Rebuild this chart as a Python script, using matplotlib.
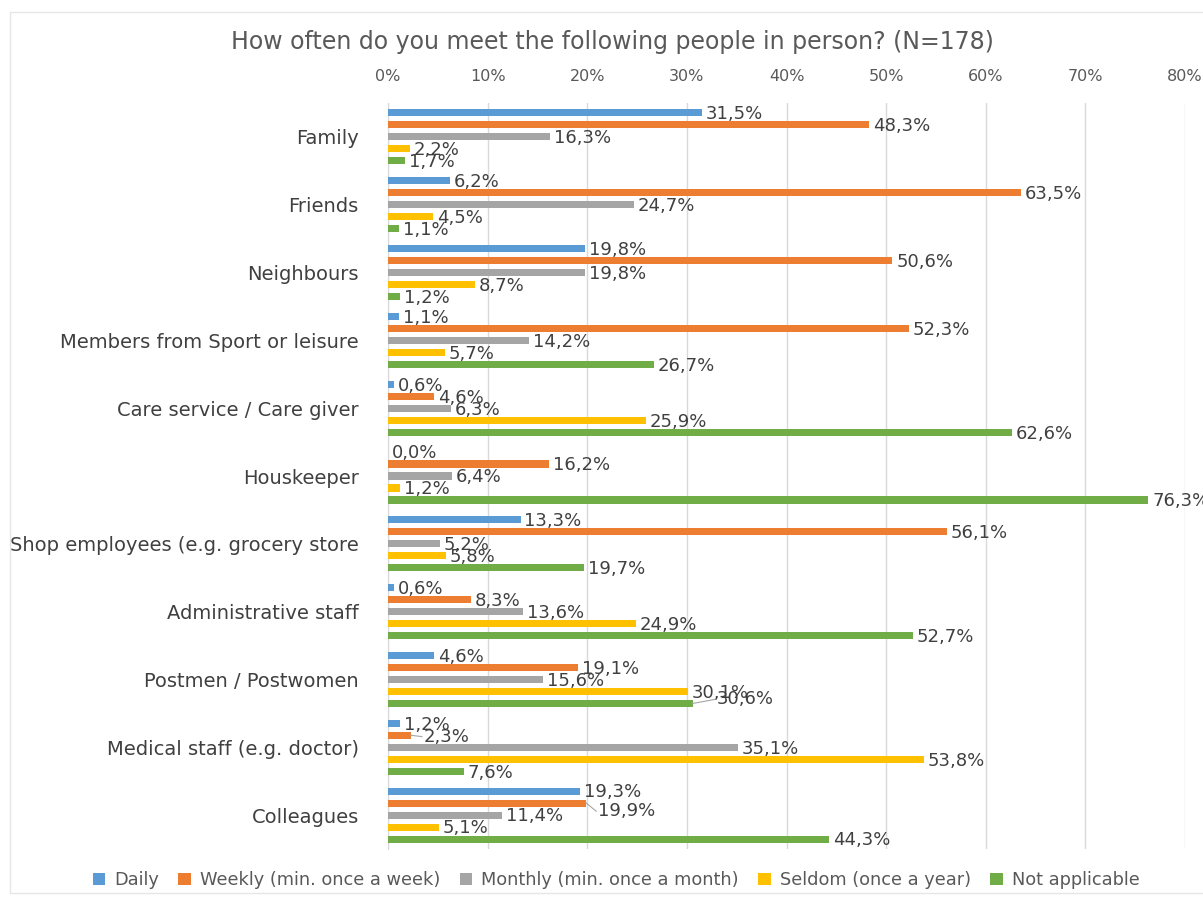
import numpy as np
import matplotlib.pyplot as plt
from matplotlib.patches import Rectangle

plt.rcParams['font.family'] = ['DejaVu Sans']

# Survey answers, share of respondents in %
people = ["Family", "Friends", "Neighbours", "Members from Sport or leisure",
          "Care service / Care giver", "Houskeeper", "Shop employees (e.g. grocery store",
          "Administrative staff", "Postmen / Postwomen", "Medical staff (e.g. doctor)",
          "Colleagues"]
daily = [31.5, 6.2, 19.8, 1.1, 0.6, 0.0, 13.3, 0.6, 4.6, 1.2, 19.3]
weekly = [48.3, 63.5, 50.6, 52.3, 4.6, 16.2, 56.1, 8.3, 19.1, 2.3, 19.9]
monthly = [16.3, 24.7, 19.8, 14.2, 6.3, 6.4, 5.2, 13.6, 15.6, 35.1, 11.4]
seldom = [2.2, 4.5, 8.7, 5.7, 25.9, 1.2, 5.8, 24.9, 30.1, 53.8, 5.1]
not_appl = [1.7, 1.1, 1.2, 26.7, 62.6, 76.3, 19.7, 52.7, 30.6, 7.6, 44.3]

series = [daily, weekly, monthly, seldom, not_appl]
names = ["Daily", "Weekly (min. once a week)", "Monthly (min. once a month)",
         "Seldom (once a year)", "Not applicable"]
colors = ["#5B9BD5", "#ED7D31", "#A5A5A5", "#FFC000", "#70AD47"]

# labels pushed aside (series index, category index) -> (dx in %, dy in rows), with leader line
moved = {(4, 8): (2.4, -0.06), (1, 10): (1.2, 0.12), (1, 9): (1.3, 0.02)}

fig = plt.figure(figsize=(12.03, 8.97), dpi=100)
ax = fig.add_axes([388 / 1203, 1 - 849 / 897, (1185 - 388) / 1203, (849 - 103) / 897])

# faint chart border
fig.patches.append(Rectangle((10 / 1203, 4 / 897), 1.2, 1 - 16 / 897,
                             transform=fig.transFigure, fill=False,
                             edgecolor="#E6E6E6", lw=1.0))

y = np.arange(len(people))
step = 0.177
h = 0.105
for i, (vals, name, c) in enumerate(zip(series, names, colors)):
    pos = y + (i - 2) * step
    ax.barh(pos, vals, height=h, color=c, label=name, zorder=3)
    for j, (p, v) in enumerate(zip(pos, vals)):
        dx, dy = moved.get((i, j), (0.4, 0.02))
        tx, ty = v + dx, p + dy
        if (i, j) in moved:
            ax.plot([v, tx - 0.2], [p, ty], color="#A6A6A6", lw=0.8, zorder=4)
        ax.text(tx, ty, f"{v:.1f}%".replace(".", ","), va="center",
                ha="left", fontsize=13, color="#404040", clip_on=False, zorder=4)

ax.set_xlim(0, 80)
ax.set_ylim(len(people) - 0.5, -0.5)
ax.set_xticks(np.arange(0, 81, 10))
ax.set_xticklabels([f"{t}%" for t in range(0, 81, 10)])
ax.xaxis.tick_top()
ax.tick_params(axis="x", length=0, labelsize=11.5, labelcolor="#595959", pad=14)
ax.set_yticks(y)
ax.set_yticklabels(people)
ax.tick_params(axis="y", length=0, labelsize=14, labelcolor="#404040", pad=21)
ax.grid(axis="x", color="#D9D9D9", lw=1, zorder=0)
for s in ["top", "right", "bottom"]:
    ax.spines[s].set_visible(False)
ax.spines["left"].set_color("#D9D9D9")

fig.text(612 / 1203, 1 - 42 / 897, "How often do you meet the following people in person? (N=178)",
         ha="center", va="center", fontsize=17, color="#595959")

fig.legend(loc="center", bbox_to_anchor=(616 / 1203, 1 - 880 / 897), ncol=5,
           frameon=False, fontsize=12.8, handlelength=0.7, handleheight=0.7,
           handletextpad=0.5, columnspacing=1.1, labelcolor="#595959")

fig.savefig("out.png", dpi=100)
